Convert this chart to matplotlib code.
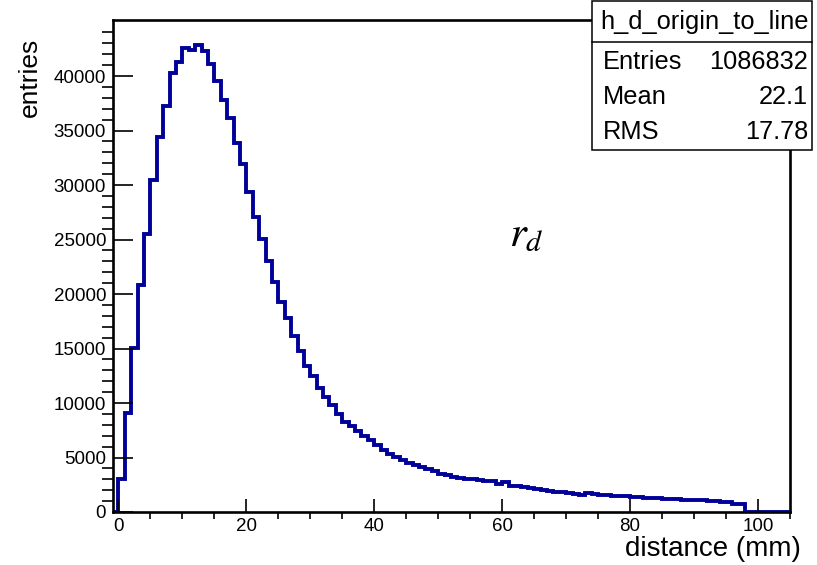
import numpy as np
import matplotlib.pyplot as plt
from matplotlib.patches import Rectangle
from matplotlib.lines import Line2D
from matplotlib.ticker import MultipleLocator, FixedLocator

plt.rcParams['font.family'] = ['Liberation Sans', 'DejaVu Sans']
plt.rcParams['mathtext.fontset'] = 'stix'

# bin edges (1 mm bins) and contents
edges = np.arange(-1, 106)
counts = [
    0,
    3000, 9100, 15080, 20800, 25550, 30450, 34370, 37240, 40250, 41260,
    42540, 42390, 42850, 42320, 41100, 39540, 37800, 36110, 33870, 31890,
    29320, 27020, 25030, 23070, 21110, 19270, 17840, 16150, 14770, 13390,
    12450, 11410, 10540, 9780, 9020, 8300, 7850, 7420, 6930, 6570,
    6110, 5650, 5350, 5030, 4730, 4480, 4270, 4110, 3930, 3750,
    3510, 3350, 3200, 3150, 3050, 2990, 2920, 2860, 2800, 2530,
    2740, 2370, 2340, 2250, 2190, 2100, 1980, 1970, 1880, 1820,
    1730, 1670, 1580, 1760, 1610, 1560, 1540, 1510, 1470, 1430,
    1400, 1360, 1330, 1260, 1280, 1220, 1180, 1150, 1130, 1140,
    1100, 1080, 1040, 1000, 930, 880, 760, 700,
    0, 0, 0, 0, 0, 0, 0,
]
y_ticks = [0, 5000, 10000, 15000, 20000, 25000, 30000, 35000, 40000]
y_minor = list(range(1000, 45000, 1000))
stats_title = 'h_d_origin_to_line'
stats_names = ['Entries', 'Mean', 'RMS']
stats_values = ['1086832', '22.1', '17.78']

fig = plt.figure(figsize=(8.17, 5.65), dpi=100)
ax = fig.add_axes([113/817, 1-512/565, (790-113)/817, (512-20)/565])

ax.stairs(counts, edges, color='#000099', linewidth=2.8, baseline=None)
ax.set_xlim(-0.85, 105)
ax.set_ylim(0, 45140)

ax.xaxis.set_major_locator(MultipleLocator(20))
ax.xaxis.set_minor_locator(MultipleLocator(5))
ax.yaxis.set_major_locator(FixedLocator(y_ticks))
ax.yaxis.set_minor_locator(FixedLocator(y_minor))
ax.tick_params(axis='both', direction='in', width=1.2, labelsize=13.5)
ax.tick_params(axis='y', which='major', length=14.5, pad=5)
ax.tick_params(axis='y', which='minor', length=8, width=1.2)
ax.tick_params(axis='x', which='major', length=9.5, pad=4)
ax.tick_params(axis='x', which='minor', length=5, width=1.2)
for s in ax.spines.values():
    s.set_linewidth(1.9)

ax.text(61, 25400, r'$r_{d}$', fontsize=31, ha='left', va='center')

fig.text(30/817, 1-38/565, 'entries', rotation=90, ha='center', va='top', fontsize=19)
fig.text(801/817, 1-549/565, 'distance (mm)', ha='right', va='center', fontsize=20)

# stats box
bx0, bx1 = 592/817, 812/817
by0, by1 = 1-150/565, 1-1/565
fig.add_artist(Rectangle((bx0, by0), bx1-bx0, by1-by0, transform=fig.transFigure,
                         facecolor='white', edgecolor='black', linewidth=1.1, zorder=5))
fig.add_artist(Line2D([bx0, bx1], [1-42/565, 1-42/565], transform=fig.transFigure,
                      color='black', linewidth=1.1, zorder=6))
fig.text((bx0+bx1)/2 + 2/817, 1-22/565, stats_title, ha='center', va='center', fontsize=18.3, zorder=7)
row_y = [62, 97, 132]
for name, val, yy in zip(stats_names, stats_values, row_y):
    fig.text(603/817, 1-yy/565, name, ha='left', va='center', fontsize=18.3, zorder=7)
    fig.text(808/817, 1-yy/565, val, ha='right', va='center', fontsize=18.3, zorder=7)

fig.savefig('out.png', dpi=100)
